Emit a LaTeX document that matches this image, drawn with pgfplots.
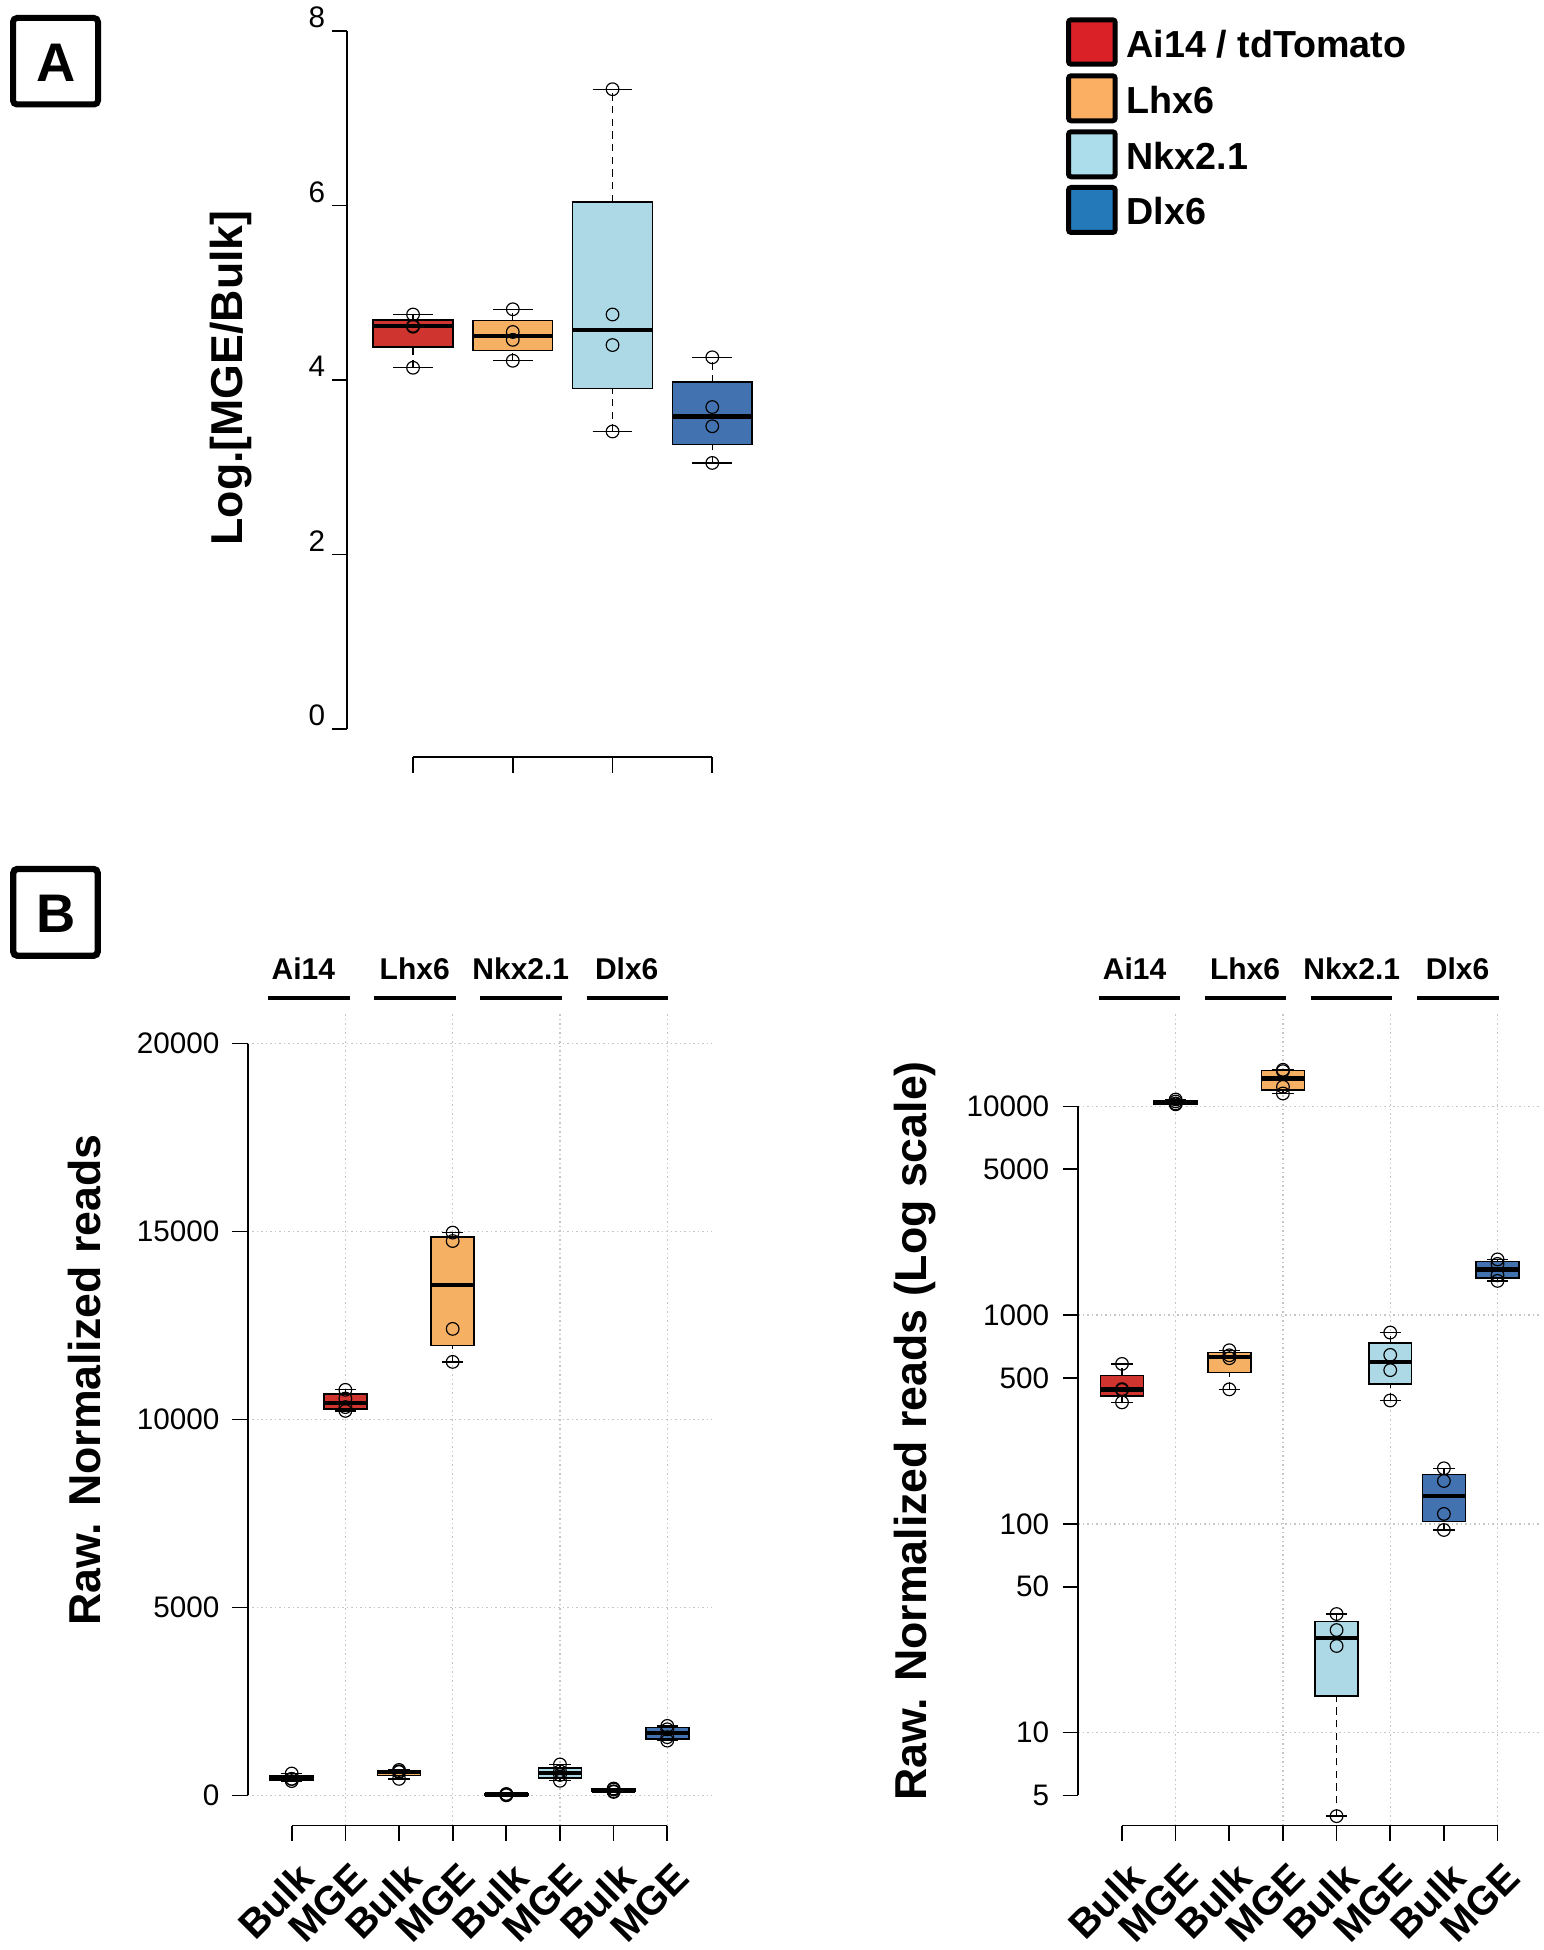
\documentclass[border=0pt]{standalone}
\usepackage{fontspec}
\setmainfont{Liberation Sans}
\usepackage{pgfplots}
\pgfplotsset{compat=1.18}
\definecolor{bred}{RGB}{207,52,46}
\definecolor{borange}{RGB}{246,176,100}
\definecolor{blight}{RGB}{173,216,230}
\definecolor{bdark}{RGB}{66,115,176}
\definecolor{lred}{RGB}{218,33,40}
\definecolor{lorange}{RGB}{251,175,99}
\definecolor{llight}{RGB}{171,221,234}
\definecolor{ldark}{RGB}{36,121,185}
\pgfplotsset{
  Rstyle/.style={
    scale only axis,
    clip=false,
    axis x line*=bottom,
    axis y line*=left,
    axis line style={draw=none,-},
    tick align=outside,
    major tick length=4.6pt,
    tick style={black, line width=0.5pt},
    ticklabel style={font=\fontsize{8.9}{10}\selectfont},
    scaled ticks=false,
    /pgf/number format/assume math mode=true,
    major grid style={gray!45, line width=0.4pt, dash pattern=on 0.45pt off 0.9pt},
  },
  Bxlabels/.style={
    xtick={1,...,8}, xticklabels={Bulk,MGE,Bulk,MGE,Bulk,MGE,Bulk,MGE},
    xticklabel style={font=\bfseries\fontsize{12}{13}\selectfont, rotate=45, anchor=east, inner sep=0pt, xshift=-3.0pt, yshift=-9.4pt},
  },
  pts/.style={only marks, mark=o, mark size=1.9pt, black, mark options={line width=0.35pt, solid}},
}
% box: pos, colour, lower whisker, lower hinge, median, upper hinge, upper whisker
\newcommand{\rbox}[7]{%
  \pgfmathsetmacro\xa{#1-0.4}\pgfmathsetmacro\xb{#1+0.4}%
  \pgfmathsetmacro\wa{#1-0.2}\pgfmathsetmacro\wb{#1+0.2}%
  \edef\temp{%
    \noexpand\addplot[black, line width=0.4pt, dash pattern=on 2.2pt off 1.6pt] coordinates {(#1,#3) (#1,#4)};
    \noexpand\addplot[black, line width=0.4pt, dash pattern=on 2.2pt off 1.6pt] coordinates {(#1,#6) (#1,#7)};
    \noexpand\addplot[black, line width=0.4pt] coordinates {(\wa,#3) (\wb,#3)};
    \noexpand\addplot[black, line width=0.4pt] coordinates {(\wa,#7) (\wb,#7)};
    \noexpand\addplot[draw=black, fill=#2, line width=0.45pt] coordinates {(\xa,#4) (\xb,#4) (\xb,#6) (\xa,#6)} -- cycle;
    \noexpand\addplot[black, line width=1.3pt] coordinates {(\xa,#5) (\xb,#5)};
  }\temp
}
\newcommand{\bpanelboxes}{%
  \rbox{1}{bred}{382}{410}{440}{513}{584}
  \rbox{2}{bred}{10230}{10280}{10445}{10675}{10790}
  \rbox{3}{borange}{441}{531.5}{632}{660.5}{679}
  \rbox{4}{borange}{11533}{11972}{13580}{14860}{14972}
  \rbox{5}{blight}{3.98}{15}{28.5}{34}{37}
  \rbox{6}{blight}{390}{467.5}{595}{735}{825}
  \rbox{7}{bdark}{93.5}{102.6}{136.1}{172.6}{184.6}
  \rbox{8}{bdark}{1459}{1504.5}{1655}{1805}{1850}
  \addplot[pts] coordinates {
    (1,382) (1,438) (1,442) (1,584)
    (2,10230) (2,10330) (2,10560) (2,10790)
    (3,441) (3,622) (3,642) (3,679)
    (4,11533) (4,12411) (4,14748) (4,14972)
    (5,3.98) (5,26.0) (5,31.0) (5,37.0)
    (6,390) (6,545) (6,645) (6,825)
    (7,93.5) (7,111.6) (7,160.5) (7,184.6)
    (8,1459) (8,1550) (8,1760) (8,1850)
  };
}
\begin{document}
\begin{tikzpicture}
\useasboundingbox (0,0) rectangle (462.9pt,-585pt);

% ---------------- Panel A ----------------
\begin{axis}[Rstyle, at={(104.16pt,-227.16pt)}, anchor=south west,
  width=129.27pt, height=226.32pt,
  xmin=0.34, xmax=4.66, ymin=-0.32, ymax=8.32,
  xtick={1,2,3,4}, xticklabels={},
  ytick={0,2,4,6,8}, yticklabels={0,2,4,6,8},
  yticklabel style={anchor=base east, inner xsep=0pt, xshift=-1.8pt, yshift=1.0pt},
]
\rbox{1}{bred}{4.14}{4.375}{4.615}{4.685}{4.75}
\rbox{2}{borange}{4.22}{4.34}{4.505}{4.68}{4.81}
\rbox{3}{blight}{3.41}{3.905}{4.575}{6.04}{7.33}
\rbox{4}{bdark}{3.05}{3.26}{3.58}{3.975}{4.26}
\addplot[pts] coordinates {
  (1,4.14) (1,4.61) (1,4.62) (1,4.75)
  (2,4.22) (2,4.46) (2,4.55) (2,4.81)
  (3,3.41) (3,4.40) (3,4.75) (3,7.33)
  (4,3.05) (4,3.47) (4,3.69) (4,4.26)
};
\draw[line width=0.5pt] (axis cs:1,-0.32) -- (axis cs:4,-0.32);
\draw[line width=0.5pt] (axis cs:0.34,0) -- (axis cs:0.34,8);
\end{axis}

% ---------------- Panel B left (linear) ----------------
\begin{axis}[Rstyle, Bxlabels, at={(74.31pt,-547.65pt)}, anchor=south west,
  width=139.08pt, height=243.6pt,
  xmin=0.18, xmax=8.82, ymin=-800, ymax=20800,
  ytick={0,5000,10000,15000,20000}, yticklabels={0,5000,10000,15000,20000},
  yticklabel style={inner xsep=0pt, xshift=-3.7pt},
  ymajorgrids,
  extra x ticks={2,4,6,8}, extra x tick labels={},
  extra x tick style={grid=major, major tick length=0pt},
]
\bpanelboxes
\draw[line width=0.5pt] (axis cs:1,-800) -- (axis cs:8,-800);
\draw[line width=0.5pt] (axis cs:0.18,0) -- (axis cs:0.18,20000);
\end{axis}

% ---------------- Panel B right (log) ----------------
\begin{axis}[Rstyle, Bxlabels, at={(323.4pt,-547.65pt)}, anchor=south west,
  width=139.05pt, height=243.6pt,
  ymode=log,
  xmin=0.18, xmax=8.82, ymin=3.589, ymax=27861,
  ytick={5,10,50,100,500,1000,5000,10000}, yticklabels={5,10,50,100,500,1000,5000,10000},
  yticklabel style={inner xsep=0pt, xshift=-3.9pt},
  extra x ticks={2,4,6,8}, extra x tick labels={},
  extra x tick style={grid=major, major tick length=0pt},
  extra y ticks={10,100,1000,10000}, extra y tick labels={},
  extra y tick style={grid=major, major tick length=0pt},
]
\bpanelboxes
\draw[line width=0.5pt] (axis cs:1,3.589) -- (axis cs:8,3.589);
\draw[line width=0.5pt] (axis cs:0.18,5) -- (axis cs:0.18,10000);
\end{axis}

% ---------------- Decorations ----------------
\begin{scope}[x=0.3pt, y=-0.3pt]
\draw[line width=1.8pt, rounded corners=1.2pt] (13,18) rectangle (98,104.5);
\node[font=\bfseries\fontsize{16.3}{18}\selectfont, inner sep=0pt] at (56,62.5) {A};
\draw[line width=1.9pt, rounded corners=1.2pt] (13.3,869) rectangle (97.7,955.7);
\node[font=\bfseries\fontsize{16.3}{18}\selectfont, inner sep=0pt] at (56,914) {B};
\node[rotate=90, font=\bfseries\fontsize{13.4}{15}\selectfont] at (231,378) {Log.[MGE/Bulk]};
\node[rotate=90, font=\bfseries\fontsize{13.4}{15}\selectfont] at (85,1380) {Raw. Normalized reads};
\node[rotate=90, font=\bfseries\fontsize{13.4}{15}\selectfont] at (915,1431) {Raw. Normalized reads (Log scale)};
\filldraw[fill=lred, draw=black, line width=1.5pt, rounded corners=0.8pt] (1068.5,19.8) rectangle (1115.2,64.2);
\filldraw[fill=lorange, draw=black, line width=1.5pt, rounded corners=0.8pt] (1068.5,75.8) rectangle (1115.2,120.8);
\filldraw[fill=llight, draw=black, line width=1.5pt, rounded corners=0.8pt] (1068.5,131.8) rectangle (1115.2,176.8);
\filldraw[fill=ldark, draw=black, line width=1.5pt, rounded corners=0.8pt] (1068.5,187.5) rectangle (1115.2,232.5);
\begin{scope}[every node/.style={anchor=base west, inner sep=0pt, font=\bfseries\fontsize{11.3}{13}\selectfont}]
\node at (1126,57.3) {Ai14 / tdTomato};
\node at (1126,113.3) {Lhx6};
\node at (1126,169.3) {Nkx2.1};
\node at (1126,224.5) {Dlx6};
\end{scope}
\begin{scope}[every node/.style={anchor=base, inner sep=0pt, font=\bfseries\fontsize{9}{10}\selectfont}]
\node at (303.3,979.5) {Ai14};
\node at (414.7,979.5) {Lhx6};
\node at (520.8,979.5) {Nkx2.1};
\node at (626.7,979.5) {Dlx6};
\node at (1134.5,979.5) {Ai14};
\node at (1245,979.5) {Lhx6};
\node at (1351.7,979.5) {Nkx2.1};
\node at (1457.5,979.5) {Dlx6};
\end{scope}
\begin{scope}[line width=1.2pt]
\draw (268.3,997.7) -- (350,997.7);
\draw (374.3,997.7) -- (456,997.7);
\draw (480,997.7) -- (561.7,997.7);
\draw (586.7,997.7) -- (668.3,997.7);
\draw (1099,997.7) -- (1180,997.7);
\draw (1205,997.7) -- (1286,997.7);
\draw (1311,997.7) -- (1392.3,997.7);
\draw (1417.3,997.7) -- (1498.5,997.7);
\end{scope}
\end{scope}
\end{tikzpicture}
\end{document}
